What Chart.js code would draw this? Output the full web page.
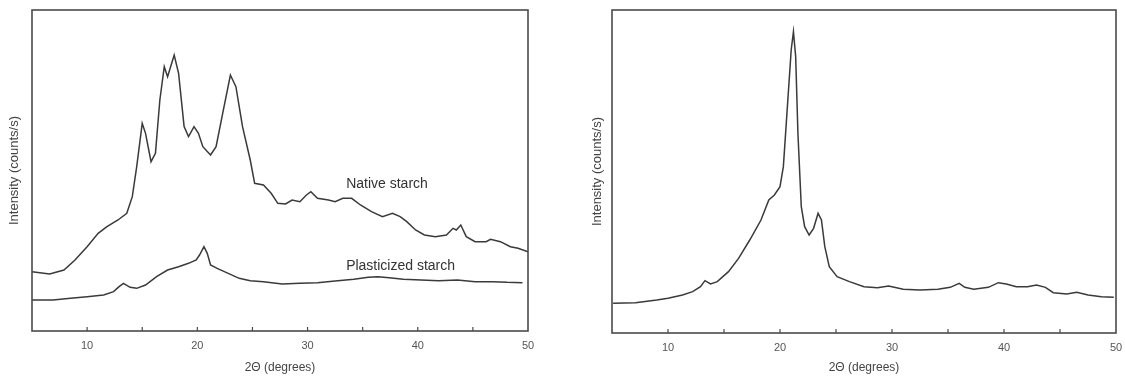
<!DOCTYPE html>
<html>
<head>
<meta charset="utf-8">
<script src="https://cdn.jsdelivr.net/npm/chart.js@4/dist/chart.umd.min.js"></script>
<style>
  html,body{margin:0;padding:0;background:#fff;}
  #wrap{position:relative;width:1125px;height:379px;overflow:hidden;background:#fff;}
  canvas{position:absolute;top:0;}
</style>
</head>
<body>
<div id="wrap">
  <canvas id="left" width="560" height="379" style="left:0px"></canvas>
  <canvas id="right" width="580" height="379" style="left:565px"></canvas>
</div>
<script>
// ---------- data (arbitrary intensity units) ----------
const xTickLabels = [10, 20, 30, 40, 50];
const minorTicks = [15, 25, 35, 45];

const nativeX = [5, 6.6, 7.9, 8.9, 10, 11, 11.8, 12.8, 13.6, 14.1, 14.5, 15.0, 15.3, 15.8, 16.2, 16.6, 17.0, 17.3, 17.9, 18.3, 18.8, 19.2, 19.7, 20.1, 20.5, 21.2, 21.7, 22.3, 23.0, 23.5, 24.1, 24.8, 25.2, 26.0, 26.7, 27.3, 28.0, 28.6, 29.3, 29.9, 30.3, 30.9, 31.9, 32.5, 33.2, 34.0, 34.8, 35.8, 36.8, 37.7, 38.4, 39.0, 39.8, 40.6, 41.6, 42.6, 43.2, 43.5, 43.9, 44.4, 45.2, 46.2, 46.6, 47.5, 48.4, 49.1, 50];
const nativeY = [178, 171, 183, 213, 253, 293, 313, 333, 353, 403, 493, 623, 593, 508, 533, 693, 793, 763, 828, 773, 613, 583, 613, 593, 553, 528, 553, 653, 768, 733, 613, 513, 443, 438, 413, 383, 381, 393, 388, 408, 418, 398, 393, 388, 398, 398, 378, 358, 343, 353, 343, 328, 303, 288, 283, 288, 308, 303, 318, 283, 268, 268, 275, 268, 253, 248, 238];

const plastX = [5, 6.9, 8.5, 10, 11.5, 12.4, 12.9, 13.3, 13.9, 14.5, 15.3, 16.3, 17.3, 18.3, 19.2, 19.9, 20.2, 20.6, 20.9, 21.2, 21.8, 22.8, 23.8, 24.8, 26.0, 27.7, 29.3, 30.9, 32.5, 34.2, 35.5, 36.4, 37.4, 38.7, 40.3, 41.9, 43.6, 45.2, 46.8, 48.1, 49.5];
const plastY = [93, 93, 98, 103, 108, 118, 133, 143, 131, 128, 138, 163, 183, 193, 203, 213, 228, 253, 233, 198, 188, 173, 158, 151, 148, 141, 143, 145, 150, 155, 161, 163, 160, 155, 153, 151, 153, 148, 148, 146, 145];

const rightX = [5.1, 7.1, 9.0, 10, 11.3, 12.2, 12.9, 13.3, 13.8, 14.4, 15.4, 16.3, 17.3, 18.3, 19.0, 19.5, 20.0, 20.3, 20.6, 21.0, 21.2, 21.4, 21.6, 21.9, 22.2, 22.6, 23.0, 23.4, 23.7, 24.0, 24.4, 25.1, 26.2, 27.5, 28.7, 29.7, 31.0, 32.5, 34.1, 35.2, 36.0, 36.5, 37.3, 38.6, 39.5, 40.2, 41.1, 42.1, 42.9, 43.7, 44.4, 45.6, 46.5, 47.5, 48.7, 49.8];
const rightY = [89, 91, 99, 104, 114, 124, 139, 157, 147, 154, 184, 224, 279, 339, 399, 414, 439, 499, 649, 849, 904, 829, 599, 379, 319, 294, 314, 359, 339, 259, 199, 169, 154, 139, 136, 141, 131, 129, 131, 137, 149, 137, 131, 137, 151, 147, 139, 139, 144, 137, 121, 117, 122, 114, 109, 107];

const curveLabels = [
  { text: 'Native starch', x: 33.5, y: 441 },
  { text: 'Plasticized starch', x: 33.5, y: 195 }
];

const FONT = "'Liberation Sans', Arial, sans-serif";
const LINE = '#3a3a3a';

function pts(xs, ys) { return xs.map((x, i) => ({ x: x, y: ys[i] })); }

const framePlugin = {
  id: 'frame',
  afterDraw(chart) {
    const { ctx, chartArea: a, scales } = chart;
    ctx.save();
    ctx.strokeStyle = '#4a4a4a';
    ctx.lineWidth = 1.6;
    ctx.strokeRect(a.left, a.top, a.right - a.left, a.bottom - a.top);
    // inward tick marks on the bottom axis
    ctx.lineWidth = 1.2;
    const xs = scales.x;
    xTickLabels.concat(minorTicks).forEach(v => {
      if (v >= 50) return;
      const px = xs.getPixelForValue(v);
      ctx.beginPath();
      ctx.moveTo(px, a.bottom);
      ctx.lineTo(px, a.bottom - 4);
      ctx.stroke();
    });
    // curve labels
    const labels = chart.options.plugins.frame.labels || [];
    ctx.fillStyle = '#333';
    ctx.font = '14px ' + FONT;
    ctx.textBaseline = 'middle';
    ctx.textAlign = 'left';
    labels.forEach(l => {
      ctx.fillText(l.text, xs.getPixelForValue(l.x), scales.y.getPixelForValue(l.y));
    });
    ctx.restore();
  }
};

function makeChart(id, datasets, yMax, pad, xHeight, yWidth, labels) {
  return new Chart(document.getElementById(id), {
    type: 'line',
    data: { datasets: datasets },
    plugins: [framePlugin],
    options: {
      responsive: false,
      animation: false,
      devicePixelRatio: 1,
      layout: { padding: pad },
      plugins: { legend: { display: false }, tooltip: { enabled: false }, frame: { labels: labels } },
      elements: { point: { radius: 0 }, line: { tension: 0, borderWidth: 1.5, borderColor: LINE } },
      scales: {
        x: {
          type: 'linear', min: 5, max: 50,
          afterBuildTicks: s => { s.ticks = xTickLabels.map(v => ({ value: v })); },
          afterFit: s => { s.height = xHeight; },
          grid: { display: false, drawTicks: false },
          border: { display: false },
          ticks: { autoSkip: false, maxRotation: 0, padding: 8, color: '#555', font: { family: FONT, size: 11 } },
          title: { display: true, text: '2Θ (degrees)', color: '#444', padding: 0, font: { family: FONT, size: 12 } }
        },
        y: {
          type: 'linear', min: 0, max: yMax,
          afterFit: s => { s.width = yWidth; },
          grid: { display: false, drawTicks: false },
          border: { display: false },
          ticks: { display: false },
          title: { display: true, text: 'Intensity (counts/s)', color: '#444', padding: 0, font: { family: FONT, size: 13 } }
        }
      }
    }
  });
}

makeChart('left', [
  { label: 'Native starch', data: pts(nativeX, nativeY), fill: false },
  { label: 'Plasticized starch', data: pts(plastX, plastY), fill: false }
], 963, { left: 7, right: 32, top: 10, bottom: 4 }, 44, 25, curveLabels);

makeChart('right', [
  { label: 'Starch', data: pts(rightX, rightY), fill: false }
], 969, { left: 25, right: 29, top: 10, bottom: 4 }, 42, 22, []);
</script>
</body>
</html>
